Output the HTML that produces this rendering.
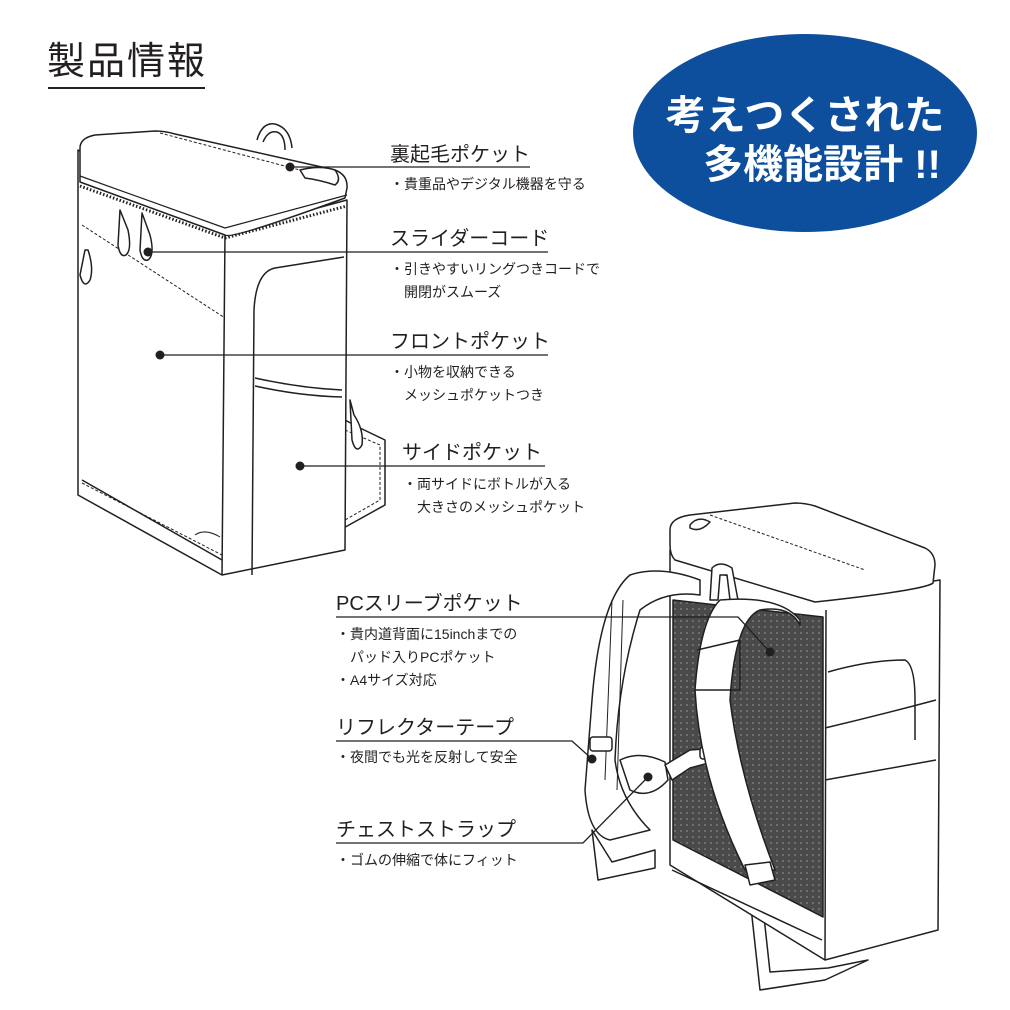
<!DOCTYPE html>
<html><head><meta charset="utf-8"><style>
html,body{margin:0;padding:0;background:#fff;}
svg{display:block;}
text{font-family:"Liberation Sans","Noto Sans CJK JP",sans-serif;fill:#231f20;}
</style></head><body>
<svg width="1010" height="1010" viewBox="0 0 1010 1010" xmlns="http://www.w3.org/2000/svg">
<defs>
<pattern id="dots" width="6" height="6" patternUnits="userSpaceOnUse">
<rect width="6" height="6" fill="#4a4a4a"/><circle cx="3" cy="3" r="0.9" fill="#8a8a8a"/>
</pattern>
</defs>
<text x="47" y="74" font-size="38" letter-spacing="2">製品情報</text>
<line x1="48" y1="88" x2="205" y2="88" stroke="#231f20" stroke-width="2"/>
<ellipse cx="805" cy="133" rx="172" ry="99" fill="#0d4f9c"/>
<text x="805" y="129" font-size="40" font-weight="bold" text-anchor="middle" style="fill:#fff">考えつくされた</text>
<text x="822" y="178" font-size="40" font-weight="bold" text-anchor="middle" style="fill:#fff">多機能設計 !!</text>

<g fill="#fff" stroke="#231f20" stroke-width="1.5" stroke-linejoin="round">
<path d="M257,140 Q262,122 275,124 Q290,128 292,148" fill="none"/>
<path d="M263,142 Q268,130 277,132 Q285,135 285,150" fill="none"/>
<path d="M345,420 L360,428 L385,440 L385,505 L340,530 Z"/>
<path d="M345,430 L380,445 L380,500 L345,520" fill="none" stroke-width="1" stroke-dasharray="3 2"/>
<path d="M78,150 L78,495 L222,575 L345,550 L347,200 L225,233 Z"/>
<path d="M225,233 L222,575"/>
<path d="M82,480 L222,560" fill="none"/>
<path d="M252,575 L254,310 Q256,272 275,268 L344,257" fill="none"/>
<path d="M255,378 Q300,388 342,390 M255,386 Q300,396 342,397" fill="none"/>
<path d="M80,148 Q80,138 95,135 L155,131 Q165,131 175,134 L335,170 Q348,175 347,188 L345,198 Q230,240 225,235 L80,182 Z"/>
<path d="M80,176 L225,228 L347,195" fill="none" stroke-width="1.2"/>
<path d="M80,186 L225,238 L347,206" fill="none" stroke-width="3" stroke-dasharray="1.5 2"/>
<path d="M82,225 L225,318" fill="none" stroke-width="1" stroke-dasharray="3 2"/>
<path d="M160,133 L330,178" fill="none" stroke-width="1" stroke-dasharray="3 2"/>
<path d="M82,483 L222,555" fill="none" stroke-width="1" stroke-dasharray="3 2"/>
<path d="M120,210 L118,245 Q120,258 126,255 Q132,250 128,230 Z"/>
<path d="M142,213 L140,250 Q142,262 148,260 Q155,255 150,235 Z"/>
<path d="M85,250 L80,275 Q84,290 90,280 Q94,268 88,250 Z"/>
<path d="M350,400 L352,440 Q356,455 362,445 Q364,430 354,415 Z"/>
<path d="M300,170 Q320,165 335,170 Q342,180 335,185 Q320,180 305,178 Z"/>
<path d="M195,535 Q205,528 220,537" fill="none" stroke-width="1"/>

<path d="M748,880 L760,990 L825,980 L868,960 L828,968 L770,972 L760,880 Z"/>
<path d="M592,830 L598,880 L655,868 L655,850 L612,862 Z"/>
<path d="M670,550 L670,865 L825,960 L938,930 L940,580 L815,600 Z"/>
<path d="M826,610 L825,960" fill="none"/>
<path d="M825,728 Q880,715 936,700 M825,780 Q880,770 936,760" fill="none"/>
<path d="M828,672 Q870,660 905,660 Q915,665 915,700 L915,740" fill="none"/>
<path d="M672,870 L822,940" fill="none"/>
<path d="M673,600 L823,617 L823,917 L673,840 Z" fill="url(#dots)"/>
<path d="M670,530 Q670,518 690,515 L795,503 Q805,503 815,506 L925,548 Q935,553 935,565 L933,583 Q925,590 815,602 L675,560 Q670,555 670,545 Z"/>
<path d="M710,515 L865,570" fill="none" stroke-width="1" stroke-dasharray="3 2"/>
<path d="M690,525 Q698,515 710,522 Q700,533 690,528 Z"/>
<path d="M710,600 L712,568 Q720,560 732,568 L738,600 L730,600 L727,575 L720,575 L718,600 Z"/>
<path d="M700,580 Q660,565 630,575 Q600,600 592,700 L585,790 Q588,835 610,840 L650,830 Q620,800 615,760 Q618,680 640,610 Q665,590 700,595 Z"/>
<path d="M612,600 L605,780 M623,600 L617,790" fill="none" stroke-width="1"/>
<path d="M620,760 Q640,750 665,762 L668,780 Q650,800 630,790 Z"/>
<path d="M665,765 L690,750 L718,748 L720,760 L690,768 L672,780 Z"/>
<rect x="590" y="737" width="22" height="14" rx="3"/>
<rect x="700" y="747" width="22" height="12" rx="3"/>
<path d="M720,600 Q700,620 695,690 Q700,780 745,870 L775,870 Q740,780 730,700 Q735,620 760,610 Q790,605 800,625 L800,620 Q780,595 720,600 Z"/>
<path d="M695,690 L740,690 L740,640 L697,650" fill="none"/>
<path d="M745,865 L770,862 L775,880 L750,885 Z"/>
</g>

<g stroke="#231f20" stroke-width="1.3" fill="none">
<polyline points="290,167 530,167"/>
<polyline points="148,252 548,252"/>
<polyline points="160,355 548,355"/>
<polyline points="300,466 545,466"/>
<polyline points="336,617 738,617 770,652"/>
<polyline points="336,741 572,741 592,759"/>
<polyline points="336,843 583,843 648,777"/>
</g>
<g fill="#231f20">
<circle cx="290" cy="167" r="4.5"/>
<circle cx="148" cy="252" r="4.5"/>
<circle cx="160" cy="355" r="4.5"/>
<circle cx="300" cy="466" r="4.5"/>
<circle cx="770" cy="652" r="4.5"/>
<circle cx="592" cy="759" r="4.5"/>
<circle cx="648" cy="777" r="4.5"/>
</g>

<g font-size="20">
<text x="390" y="161">裏起毛ポケット</text>
<text x="390" y="245">スライダーコード</text>
<text x="390" y="348">フロントポケット</text>
<text x="402" y="459">サイドポケット</text>
<text x="336" y="610">PCスリーブポケット</text>
<text x="336" y="734">リフレクターテープ</text>
<text x="336" y="836">チェストストラップ</text>
</g>
<g font-size="14">
<text x="390" y="189">・貴重品やデジタル機器を守る</text>
<text x="390" y="274">・引きやすいリングつきコードで</text>
<text x="404" y="297">開閉がスムーズ</text>
<text x="390" y="377">・小物を収納できる</text>
<text x="404" y="400">メッシュポケットつき</text>
<text x="403" y="489">・両サイドにボトルが入る</text>
<text x="417" y="512">大きさのメッシュポケット</text>
<text x="336" y="639">・貴内道背面に15inchまでの</text>
<text x="350" y="662">パッド入りPCポケット</text>
<text x="336" y="685">・A4サイズ対応</text>
<text x="336" y="762">・夜間でも光を反射して安全</text>
<text x="336" y="865">・ゴムの伸縮で体にフィット</text>
</g>
</svg>
</body></html>
